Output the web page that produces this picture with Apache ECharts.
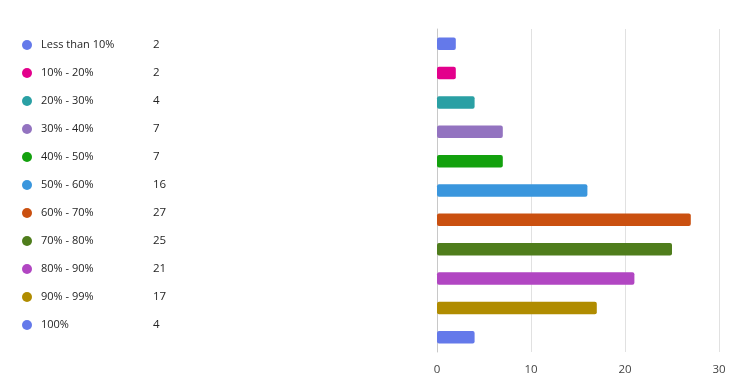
<!DOCTYPE html>
<html><head><meta charset="utf-8">
<script src="https://cdn.jsdelivr.net/npm/echarts@6/dist/echarts.min.js"></script>
<style>html,body{margin:0;padding:0;background:#fff}#c{width:749px;height:381px}</style>
</head><body><div id="c"></div>
<script>
var categories = ['Less than 10%','10% - 20%','20% - 30%','30% - 40%','40% - 50%','50% - 60%','60% - 70%','70% - 80%','80% - 90%','90% - 99%','100%'];
var values = [2,2,4,7,7,16,27,25,21,17,4];
var colors = ['#6479ea','#e3008c','#2aa0a4','#9373c0','#13a10e','#3a96dd','#ca5010','#4f7d1c','#b146c2','#b08c00','#6479ea'];
var xTicks = [0,10,20,30];

var series = categories.map(function(name, i){
  var d = categories.map(function(_, j){ return j === i ? values[i] : '-'; });
  return {
    name: name, type: 'bar', stack: 'all', data: d, barWidth: 12.5,
    itemStyle: { color: colors[i], borderRadius: 2 },
    silent: true
  };
});
var valMap = {};
categories.forEach(function(c,i){ valMap[c] = values[i]; });

var chart = echarts.init(document.getElementById('c'), null, {renderer:'canvas'});
chart.setOption({
  animation: false,
  textStyle: { fontFamily: 'Open Sans' },
  legend: {
    orient: 'vertical', left: 17, top: 34,
    icon: 'circle', itemWidth: 10, itemHeight: 10, itemGap: 16,
    selectedMode: false,
    data: categories,
    formatter: function(n){ return '{n|' + n + '}{v|' + valMap[n] + '}'; },
    textStyle: {
      rich: {
        n: { width: 112, fontSize: 11, color: '#252525', padding: [0,0,0,4], lineHeight: 12, fontFamily: 'Open Sans' },
        v: { fontSize: 11.5, color: '#252525', lineHeight: 12, fontFamily: 'Open Sans' }
      }
    }
  },
  grid: { left: 437, right: 30, top: 29, bottom: 29, containLabel: false },
  xAxis: {
    type: 'value', min: xTicks[0], max: xTicks[xTicks.length-1], interval: 10,
    axisLine: { show: false }, axisTick: { show: false },
    axisLabel: { color: '#444', fontSize: 11.5, margin: 12, fontFamily: 'Open Sans' },
    splitLine: { lineStyle: { color: '#e1e1e1' } }
  },
  yAxis: {
    type: 'category', data: categories, inverse: true,
    axisLabel: { show: false }, axisTick: { show: false },
    axisLine: { lineStyle: { color: '#c8c8c8' } }
  },
  series: series
});
</script>
</body></html>
